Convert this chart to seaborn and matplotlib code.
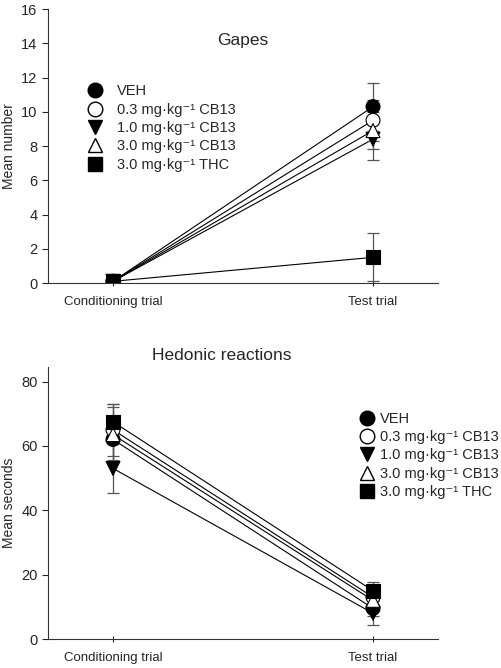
import numpy as np
import pandas as pd
import seaborn as sns
import matplotlib.pyplot as plt
from matplotlib.lines import Line2D

sns.set_style("white")
plt.rcParams['font.family'] = ['Liberation Sans', 'DejaVu Sans']

trials = ["Conditioning trial", "Test trial"]
groups = ["VEH", "0.3 mg·kg⁻¹ CB13", "1.0 mg·kg⁻¹ CB13",
          "3.0 mg·kg⁻¹ CB13", "3.0 mg·kg⁻¹ THC"]

# gapes: mean and SEM per group, [conditioning, test]
gapes_mean = [[0.1, 10.3], [0.1, 9.5], [0.1, 8.4], [0.1, 8.9], [0.1, 1.5]]
gapes_sem = [[0.1, 1.4], [0.1, 1.2], [0.1, 1.2], [0.1, 1.1], [0.1, 1.4]]

# hedonic reactions
hed_mean = [[62.0, 9.5], [65.0, 13.0], [53.0, 8.0], [63.5, 12.0], [67.5, 15.0]]
hed_sem = [[6.5, 2.5], [8.0, 3.0], [7.5, 3.7], [8.5, 3.0], [5.5, 2.8]]

markers = {groups[0]: "o", groups[1]: "o", groups[2]: "v", groups[3]: "^", groups[4]: "s"}
faces = {groups[0]: "black", groups[1]: "white", groups[2]: "black", groups[3]: "white", groups[4]: "black"}


def long_df(means, sems):
    rows = []
    for g, m, s in zip(groups, means, sems):
        for i, t in enumerate(trials):
            rows.append({"group": g, "trial": i, "mean": m[i], "err": s[i]})
    return pd.DataFrame(rows)


def panel(ax, df, ylim, yticks, ylabel):
    sns.lineplot(data=df, x="trial", y="mean", units="group", estimator=None,
                 color="black", lw=0.8, ax=ax, zorder=1)
    for g in groups:
        d = df[df["group"] == g]
        ax.errorbar(d["trial"], d["mean"], yerr=d["err"], fmt="none", ecolor="#555555",
                    elinewidth=0.9, capsize=4, capthick=0.9, zorder=2)
    sns.scatterplot(data=df, x="trial", y="mean", hue="group", style="group",
                    markers=markers, palette=faces, edgecolor="black", linewidth=0.8,
                    s=100, ax=ax, legend=False, zorder=3)
    ax.set_xlim(-0.25, 1.25)
    ax.set_ylim(*ylim)
    ax.set_yticks(yticks)
    ax.set_xticks([0, 1])
    ax.set_xticklabels(trials, fontsize=9.5)
    ax.tick_params(axis="y", labelsize=10.5, direction="out", length=4, width=0.8, left=True)
    ax.tick_params(axis="x", direction="inout", length=5, width=0.8, bottom=True, pad=7)
    ax.set_xlabel("")
    ax.set_ylabel(ylabel, fontsize=10)
    for sp in ["top", "right"]:
        ax.spines[sp].set_visible(False)
    for sp in ["left", "bottom"]:
        ax.spines[sp].set_color("#333333")
        ax.spines[sp].set_linewidth(0.8)


def legend(ax, anchor, textpad):
    handles = [Line2D([], [], ls="none", marker=markers[g], markerfacecolor=faces[g],
                      markeredgecolor="black", markersize=10.5, label=g) for g in groups]
    ax.legend(handles=handles, loc="upper left", bbox_to_anchor=anchor, frameon=False,
              fontsize=10.5, handlelength=1.0, handletextpad=textpad, labelspacing=0.3,
              borderaxespad=0, borderpad=0)


fig = plt.figure(figsize=(5.02, 6.68), dpi=100)
ax1 = fig.add_axes([0.0956, 0.5763, 0.777, 0.4102])
ax2 = fig.add_axes([0.0956, 0.0434, 0.777, 0.4076])

panel(ax1, long_df(gapes_mean, gapes_sem), (0, 16), range(0, 17, 2), "Mean number")
ax1.text(0.5, 0.885, "Gapes", transform=ax1.transAxes, ha="center", va="center", fontsize=12.5)
legend(ax1, (0.103, 0.725), 1.0)

panel(ax2, long_df(hed_mean, hed_sem), (0, 84.6), range(0, 81, 20), "Mean seconds")
ax2.set_title("Hedonic reactions", fontsize=12.5, pad=5, x=0.445)
legend(ax2, (0.8, 0.835), 0.35)

fig.savefig("out.png", dpi=100)
